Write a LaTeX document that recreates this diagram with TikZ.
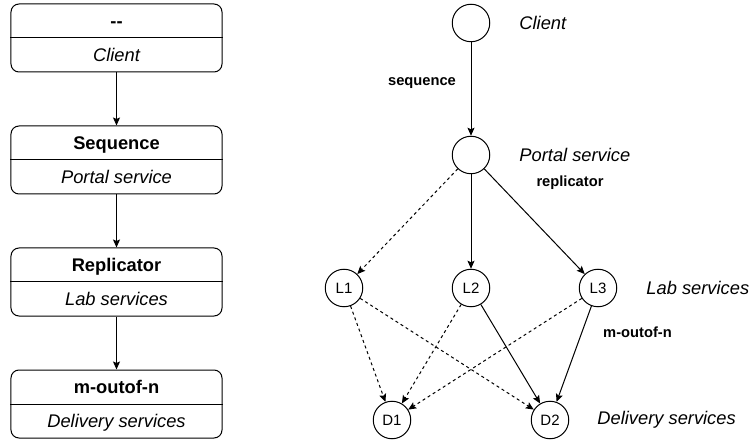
\documentclass[tikz,border=0pt]{standalone}
\usepackage{fontspec}
\setmainfont{Liberation Sans}
\usetikzlibrary{positioning, arrows.meta}

\newcommand{\nohead}{-\kern0pt-}

\tikzset{
  svcbox/.style={draw, line width=1bp, rounded corners=8bp, minimum width=211bp, minimum height=68bp, inner sep=0pt},
  headtext/.style={font=\fontsize{18.3bp}{22bp}\selectfont\bfseries, inner sep=0pt, anchor=base},
  roletext/.style={font=\fontsize{18.3bp}{22bp}\selectfont\itshape, inner sep=0pt, anchor=base},
  svc/.style={draw, circle, line width=1bp, minimum size=37.5bp, inner sep=0pt, font=\fontsize{15bp}{18bp}\selectfont},
  tiername/.style={font=\fontsize{18.3bp}{22bp}\selectfont\itshape, inner sep=0pt, anchor=west},
  combtext/.style={font=\fontsize{14.7bp}{18bp}\selectfont\bfseries, inner sep=0pt},
  flow/.style={line width=1bp, -{Stealth[length=8bp,width=7bp,inset=1.5bp]}},
  backup/.style={flow, dash pattern=on 3bp off 3bp},
}

\begin{document}
\begin{tikzpicture}[x=1bp, y=-1bp]
    \useasboundingbox (0,0) rectangle (750,441);

    % Left column: one box per tier
    \foreach \i/\y/\head/\role in {1/38/\nohead/Client, 2/160/Sequence/Portal service, 3/282/Replicator/Lab services, 4/404/m-outof-n/Delivery services} {
      \node[svcbox] (box\i) at (116.5,\y) {};
      \draw[line width=1bp] (box\i.west) -- (box\i.east);
      \node[headtext] (head\i) at ([yshift=-24bp]box\i.north) {\head};
      \node[roletext] (role\i) at ([yshift=-58bp]box\i.north) {\role};
    }
    \foreach \i/\j in {1/2, 2/3, 3/4}
      \draw[flow] (box\i) -- (box\j);

    % Service graph
    \node[svc] (client) at (471,23) {};
    \node[svc] (portal) at (471,155) {};
    \foreach \n/\x in {1/344, 2/471, 3/598}
      \node[svc] (l\n) at (\x,288) {L\n};
    \foreach \n/\x in {1/392, 2/550}
      \node[svc] (d\n) at (\x,420) {D\n};

    % Tier names
    \node[tiername, right=29bp of client] (clientname) {Client};
    \node[tiername, right=29bp of portal] (portalname) {Portal service};
    \node[tiername, right=29bp of l3] (labname) {Lab services};
    \node[tiername, right=28bp of d2] (deliveryname) {Delivery services};

    % Combinators
    \node[combtext] (seqname) at (422,83) {sequence};
    \node[combtext] (repname) at (570,183) {replicator};
    \node[combtext] (mofnname) at (637.5,332) {m-outof-n};

    % Edges
    \draw[flow] (client) -- (portal);
    \draw[backup] (portal) -- (l1);
    \draw[flow] (portal) -- (l2);
    \draw[flow] (portal) -- (l3);
    \foreach \a/\b in {l1/d1, l1/d2, l2/d1, l3/d1}
      \draw[backup] (\a) -- (\b);
    \draw[flow] (l2) -- (d2);
    \draw[flow] (l3) -- (d2);

\end{tikzpicture}
\end{document}
